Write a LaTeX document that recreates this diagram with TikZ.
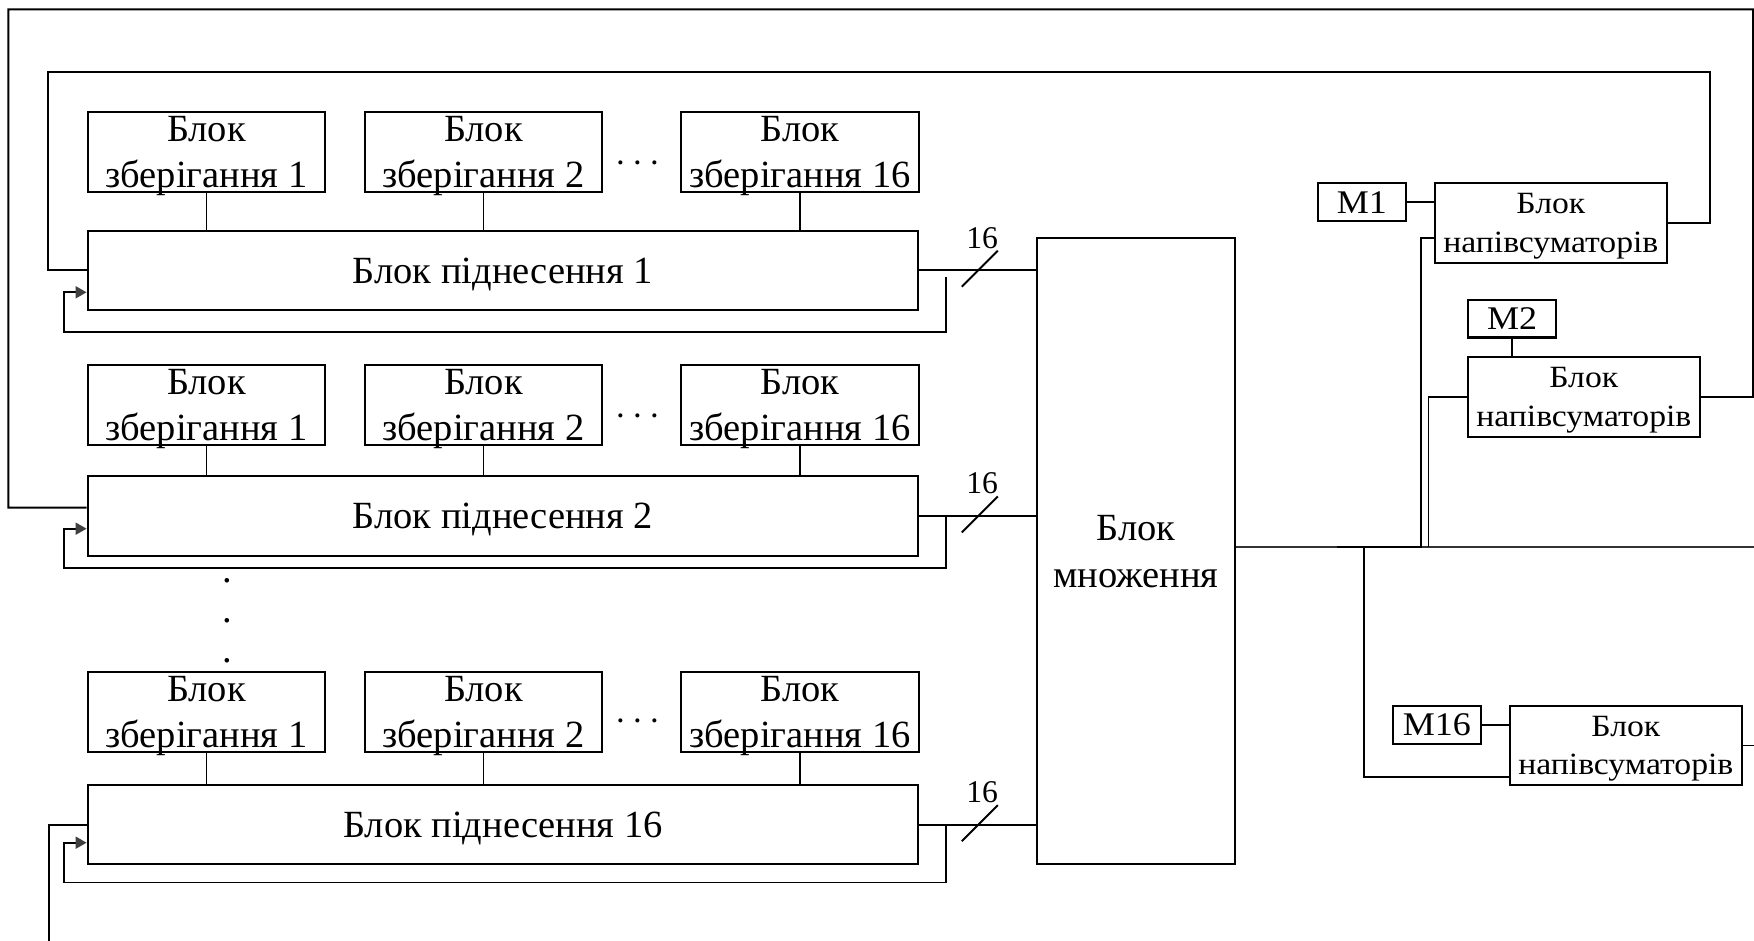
\documentclass[tikz,border=0pt]{standalone}
\usepackage{fontspec}
\setmainfont{Liberation Serif}
\newfontfamily\widefont[FakeStretch=1.09]{Liberation Serif}
\usetikzlibrary{arrows.meta,calc}
\begin{document}
\begin{tikzpicture}[x=0.1mm,y=-0.1mm,
  blk/.style={draw,line width=0.6pt,inner sep=0pt,align=center,text depth=0pt,
    font=\fontsize{10.95}{13.3}\selectfont},
  stor/.style={blk,minimum width=23.77mm,minimum height=7.93mm},
  raise/.style={blk,minimum width=83.07mm,minimum height=7.93mm},
  mult/.style={blk,minimum width=19.83mm,minimum height=62.6mm},
  half/.style={blk,minimum width=23.17mm,minimum height=7.94mm,
    font=\widefont\fontsize{8.8}{10.9}\selectfont},
  mbox/.style={blk,minimum width=8.83mm,minimum height=3.77mm,
    font=\widefont\fontsize{9.4}{11}\selectfont},
  wire/.style={draw,line width=0.55pt},
  bus/.style={draw,line width=0.5pt,black!80},
  fb/.style={wire,-{Triangle[length=1.1mm,width=1.2mm,color=black!75,fill=black!75]}},
  lbl/.style={inner sep=0pt,font=\fontsize{9}{10}\selectfont},
  dots/.style={inner sep=0pt,font=\fontsize{11}{13}\selectfont}
]
\useasboundingbox (0,0) rectangle (1754,941);

% ---- row 1
\node[stor] (s11) at (206.5,152) {Блок\\зберігання 1};
\node[stor] (s12) at (483.5,152) {Блок\\зберігання 2};
\node[stor] (s1n) at (800,152) {Блок\\зберігання 16};
\node[dots] (d1) at (637.5,164) {$\cdots$};
\node[raise] (r1) at (503,270.3) {Блок піднесення 1};
% ---- row 2
\node[stor] (s21) at (206.5,405) {Блок\\зберігання 1};
\node[stor] (s22) at (483.5,405) {Блок\\зберігання 2};
\node[stor] (s2n) at (800,405) {Блок\\зберігання 16};
\node[dots] (d2) at (637.5,417) {$\cdots$};
\node[raise] (r2) at (503,516) {Блок піднесення 2};
% ---- vertical dots
\node[inner sep=0pt,align=center,font=\fontsize{11}{11.38}\selectfont] (vd) at (227.3,621) {.\\.\\.};
% ---- row 3
\node[stor] (s31) at (206.5,712) {Блок\\зберігання 1};
\node[stor] (s32) at (483.5,712) {Блок\\зберігання 2};
\node[stor] (s3n) at (800,712) {Блок\\зберігання 16};
\node[dots] (d3) at (637.5,722) {$\cdots$};
\node[raise] (r3) at (503,824.7) {Блок піднесення 16};

% ---- multiplier
\node[mult] (mul) at (1135.8,551.3) {Блок\\множення};

% ---- half adders
\node[half] (h1) at (1550.8,223) {Блок\\напівсуматорів};
\node[half] (h2) at (1583.8,397) {Блок\\напівсуматорів};
\node[half] (h16) at (1625.8,745.5) {Блок\\напівсуматорів};
\node[mbox] (m1) at (1361.8,202.2) {М1};
\node[mbox] (m2) at (1512.2,318.7) {М2};
\node[mbox] (m16) at (1436.8,724.8) {М16};

% ---- storage connectors
\foreach \s/\r in {s11/r1,s12/r1,s1n/r1,s21/r2,s22/r2,s2n/r2,s31/r3,s32/r3,s3n/r3}
  \draw[wire] (\s.south) -- (\s.south |- \r.north);

% ---- raise -> multiplier, with bus width marks
\foreach \r in {r1,r2,r3}{
  \draw[wire] (\r.east) -- (\r.east -| mul.west);
  \draw[wire] ($(\r.east)+(42.4,16.4)$) -- ++(36,-36);
  \node[lbl] at ($(\r.east)+(62.7,-32.5)$) {16};
}

% ---- feedback loops
\coordinate (fb1) at (945.7,276.7);
\draw[fb] (fb1) |- (63.6,332.3) |- ($(r1.west)+(0,22)$);
\draw[fb] (r2.east -| fb1) |- (63.6,568.3) |- ($(r2.west)+(0,12.7)$);
\draw[fb] (r3.east -| fb1) |- (63.6,882.5) |- ($(r3.west)+(0,18)$);

% ---- loops from half adders
\draw[wire] (h1.east) -| (1709.7,72.3) -| (48.2,270.3) -- (r1.west);
\draw[wire] (h2.east) -| (1753,9.3) -| (8.4,507.7) -- ($(r2.west)+(0,-8.3)$);
\coordinate (in16) at (48.7,941);
\draw[wire] (in16) |- (r3.west);

% ---- multiplier output bus
\coordinate (mo) at ($(mul.east)+(0,-4)$);
\coordinate (busend) at (1754,547.3);
\draw[bus] (mo) -- (busend);
\draw[wire] (1337,547.3) -- (1420.7,547.3) |- ($(h1.west)+(0,15.3)$);
\draw[wire] (1428.5,547.3) |- (h2.west);
\draw[wire] (1364.3,547.3) |- ($(h16.west)+(0,31.2)$);
\draw[wire] (h16.east) -- (h16.east -| busend);

% ---- M connections
\draw[wire] (m1.east) -- (m1.east -| h1.west);
\draw[wire] (m2.south) -- (m2.south |- h2.north);
\draw[wire] (m16.east) -- (m16.east -| h16.west);
\end{tikzpicture}
\end{document}
